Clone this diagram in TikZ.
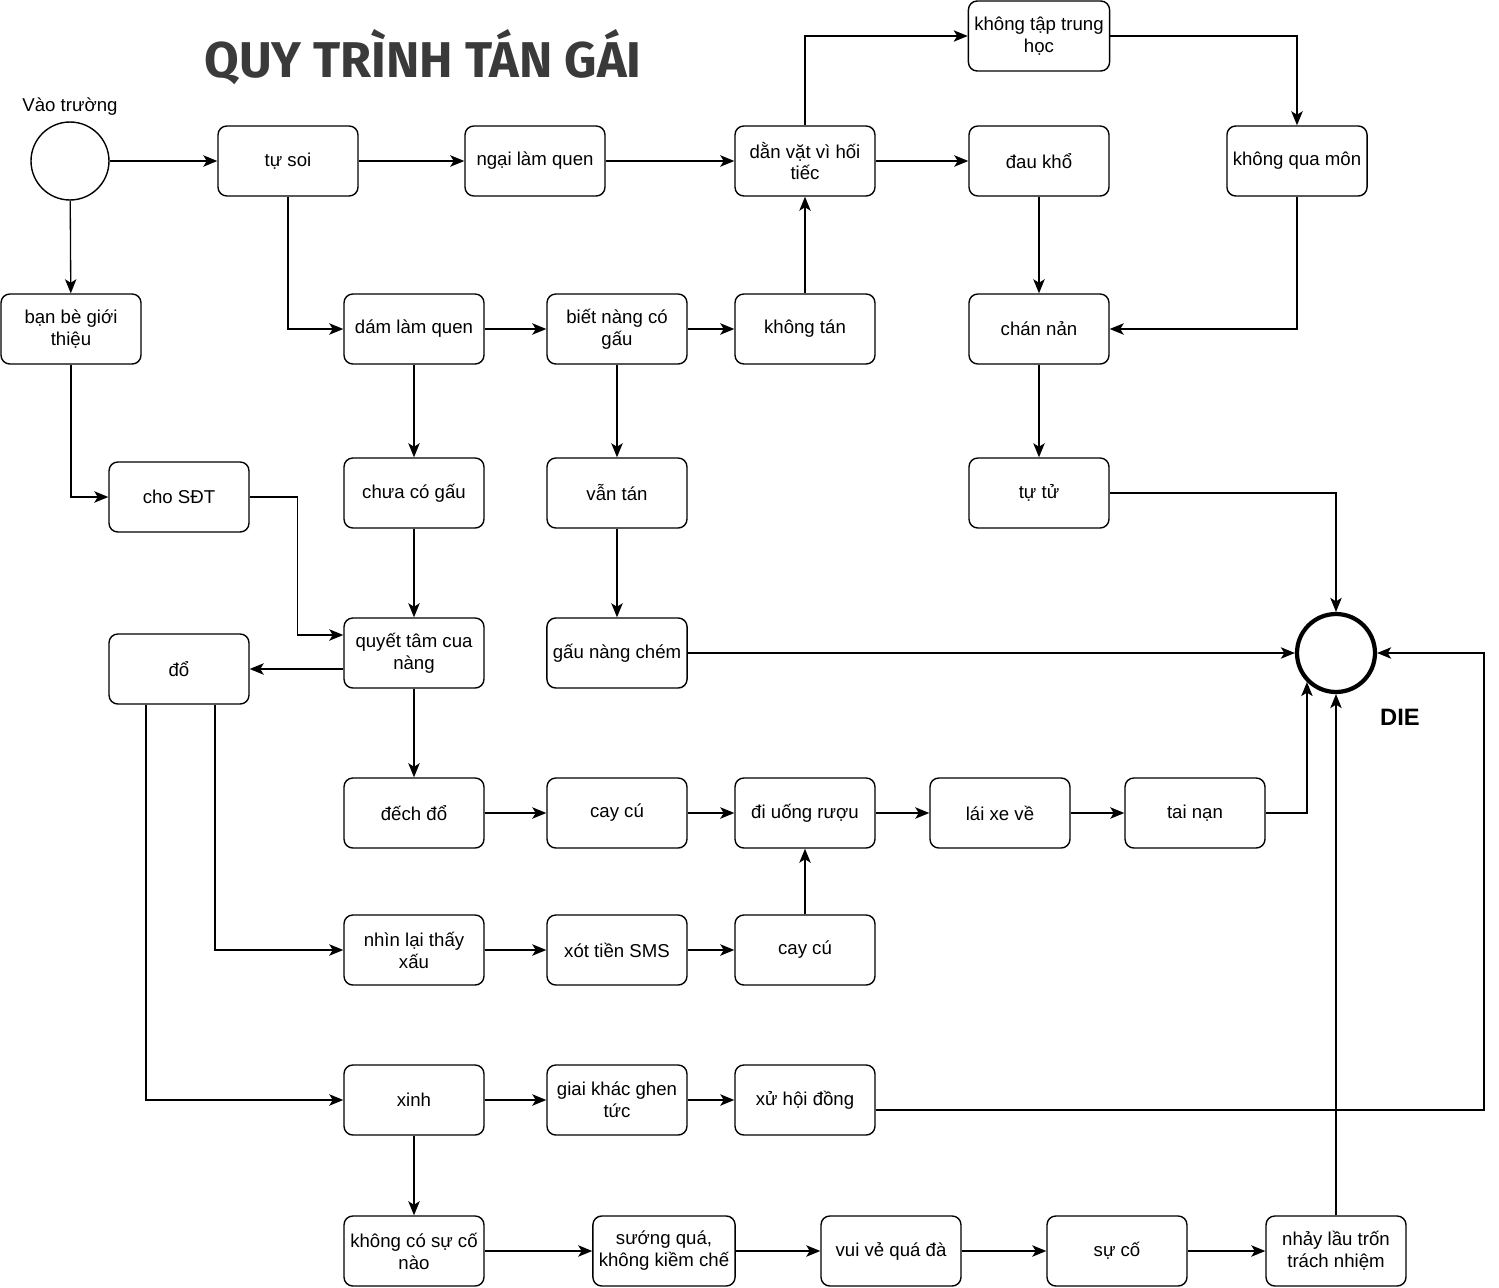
\documentclass[tikz,border=0pt]{standalone}
\usepackage{fontspec}
\setmainfont{Liberation Sans}
\newfontfamily\titlefont{Fira Sans}
\usetikzlibrary{arrows.meta}
\definecolor{titlegray}{RGB}{58,58,58}
\tikzset{
	box/.style={draw,rounded corners=5pt,minimum width=2.8cm,minimum height=1.4cm,
		align=center,line width=0.8pt,font=\fontsize{10.6}{12.5}\selectfont},
	circ/.style={draw,circle,minimum size=1.56cm,line width=0.8pt},
	line/.style={line width=0.75pt,-{Stealth[length=8pt,width=6.5pt,inset=2pt]}}
}
\begin{document}
\begin{tikzpicture}[x=0.02cm,y=-0.02cm]
	\useasboundingbox(0,0)rectangle(1499,1288);
	\node[font=\titlefont\bfseries\fontsize{28.6}{29}\selectfont,text=titlegray](title)at(423,57){QUY TRÌNH TÁN GÁI};
	% start
	\node[circ](start)at(70,161){};
	\node[font=\fontsize{10.6}{12}\selectfont](vao)at(70,107){Vào trường};
	% row 1
	\node[box](tusoi)at(288,161){tự soi};
	\node[box](ngai)at(535,161){ngại làm quen};
	\node[box](danvat)at(805,161){dằn vặt vì hối\\tiếc};
	\node[box](taptrung)at(1039,36){không tập trung\\học};
	\node[box](daukho)at(1039,161){đau khổ};
	\node[box](quamon)at(1297,161){không qua môn};
	% row 2
	\node[box](banbe)at(71,329){bạn bè giới\\thiệu};
	\node[box](dam)at(414,329){dám làm quen};
	\node[box](coghau)at(617,329){biết nàng có\\gấu};
	\node[box](khongtan)at(805,329){không tán};
	\node[box](channan)at(1039,329){chán nản};
	% row 3
	\node[box](sdt)at(179,497){cho SĐT};
	\node[box](chuaco)at(414,493){chưa có gấu};
	\node[box](vantan)at(617,493){vẫn tán};
	\node[box](tutu)at(1039,493){tự tử};
	% row 4
	\node[box](do)at(179,669){đổ};
	\node[box](quyettam)at(414,653){quyết tâm cua\\nàng};
	\node[box](chem)at(617,653){gấu nàng chém};
	\node[circ,line width=2.4pt](die)at(1336,653){};
	\node[font=\bfseries\fontsize{13.5}{14}\selectfont](dielbl)at(1400,717){DIE};
	% row 5
	\node[box](dech)at(414,813){đếch đổ};
	\node[box](caycu)at(617,813){cay cú};
	\node[box](uong)at(805,813){đi uống rượu};
	\node[box](laixe)at(1000,813){lái xe về};
	\node[box](tainan)at(1195,813){tai nạn};
	% row 6
	\node[box](nhinlai)at(414,950){nhìn lại thấy\\xấu};
	\node[box](sms)at(617,950){xót tiền SMS};
	\node[box](caycub)at(805,950){cay cú};
	% row 7
	\node[box](xinh)at(414,1100){xinh};
	\node[box](ghen)at(617,1100){giai khác ghen\\tức};
	\node[box](xuhd)at(805,1100){xử hội đồng};
	% row 8
	\node[box](suco0)at(414,1251){không có sự cố\\nào};
	\node[box](suong)at(664,1251){sướng quá,\\không kiềm chế};
	\node[box](vuive)at(891,1251){vui vẻ quá đà};
	\node[box](suco)at(1117,1251){sự cố};
	\node[box](nhaylau)at(1336,1251){nhảy lầu trốn\\trách nhiệm};
	\coordinate(bend)at(1484,653);
	% connectors
	\draw[line](start)--(tusoi);
	\draw[line](start)--(banbe);
	\draw[line](tusoi)--(ngai);
	\draw[line](ngai)--(danvat);
	\draw[line](tusoi.south)|-(dam.west);
	\draw[line](danvat.north)|-(taptrung.west);
	\draw[line](taptrung.east)-|(quamon.north);
	\draw[line](danvat)--(daukho);
	\draw[line](daukho)--(channan);
	\draw[line](quamon.south)|-(channan.east);
	\draw[line](channan)--(tutu);
	\draw[line](tutu.east)-|(die.north);
	\draw[line](dam)--(coghau);
	\draw[line](coghau)--(khongtan);
	\draw[line](khongtan)--(danvat);
	\draw[line](dam)--(chuaco);
	\draw[line](coghau)--(vantan);
	\draw[line](vantan)--(chem);
	\draw[line](chem)--(die);
	\draw[line](banbe.south)|-(sdt.west);
	\draw[line](sdt.east)-|++(48,0)|-([yshift=0.36cm]quyettam.west);
	\draw[line](chuaco)--(quyettam);
	\draw[line](quyettam.west|-do.east)--(do.east);
	\draw[line](quyettam)--(dech);
	\draw[line](dech)--(caycu);
	\draw[line](caycu)--(uong);
	\draw[line](uong)--(laixe);
	\draw[line](laixe)--(tainan);
	\draw[line](tainan.east)-|(die.south west);
	\draw[line]([xshift=0.72cm]do.south)|-(nhinlai.west);
	\draw[line]([xshift=-0.66cm]do.south)|-(xinh.west);
	\draw[line](nhinlai)--(sms);
	\draw[line](sms)--(caycub);
	\draw[line](caycub)--(uong);
	\draw[line](xinh)--(ghen);
	\draw[line](ghen)--(xuhd);
	\draw[line]([yshift=-0.2cm]xuhd.east)-|(bend)--(die.east);
	\draw[line](xinh)--(suco0);
	\draw[line](suco0)--(suong);
	\draw[line](suong)--(vuive);
	\draw[line](vuive)--(suco);
	\draw[line](suco)--(nhaylau);
	\draw[line](nhaylau)--(die);
\end{tikzpicture}
\end{document}
